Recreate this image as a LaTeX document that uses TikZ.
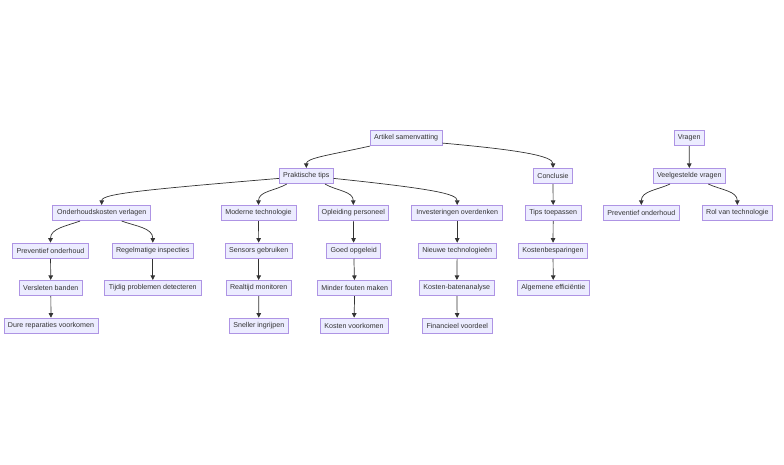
\documentclass[tikz,border=0pt]{standalone}
\usepackage{fontspec}
\setmainfont{Liberation Sans}
\usetikzlibrary{arrows.meta,calc}
\definecolor{boxfill}{HTML}{ECECFF}
\definecolor{boxline}{HTML}{9370DB}
\definecolor{txt}{HTML}{333333}
\begin{document}
\begin{tikzpicture}[x=1pt,y=1pt,
  box/.style={draw=boxline!75,fill=boxfill,line width=0.6pt,text=txt,minimum height=15.5pt,inner sep=1pt,font=\fontsize{7.1}{8.5}\selectfont},
  arr/.style={draw=txt,line width=0.7pt,-{Triangle[length=4.5pt,width=4.5pt]}}]
\useasboundingbox (0,0) rectangle (784,-464);
\fill[white] (0,0) rectangle (784,-464);
% row 0
\node[box,minimum width=71.7pt] (art) at (406.2,-138) {Artikel samenvatting};
\node[box,minimum width=30.3pt] (vragen) at (689.2,-138) {Vragen};
% row 1
\node[box,minimum width=54pt] (prak) at (306.3,-176) {Praktische tips};
\node[box,minimum width=38.6pt] (concl) at (553,-176) {Conclusie};
\node[box,minimum width=72.7pt] (veel) at (689.3,-176) {Veelgestelde vragen};
% row 2
\node[box,minimum width=98pt] (onder) at (101.7,-213) {Onderhoudskosten verlagen};
\node[box,minimum width=75pt] (mod) at (258.5,-213) {Moderne technologie};
\node[box,minimum width=70pt] (opl) at (353.3,-213) {Opleiding personeel};
\node[box,minimum width=91pt] (inv) at (457.2,-213) {Investeringen overdenken};
\node[box,minimum width=55.7pt] (tips) at (553.2,-213) {Tips toepassen};
\node[box,minimum width=76pt] (prevb) at (641.3,-213) {Preventief onderhoud};
\node[box,minimum width=70.7pt] (rol) at (737.3,-213) {Rol van technologie};
% row 3
\node[box,minimum width=76.4pt] (preva) at (50.5,-250.7) {Preventief onderhoud};
\node[box,minimum width=81pt] (regel) at (152.8,-250.7) {Regelmatige inspecties};
\node[box,minimum width=67.3pt] (sens) at (258.7,-250.7) {Sensors gebruiken};
\node[box,minimum width=54pt] (goed) at (353.7,-250.7) {Goed opgeleid};
\node[box,minimum width=77.7pt] (nieuw) at (457.2,-250.7) {Nieuwe technologieën};
\node[box,minimum width=69.4pt] (kostb) at (553,-250.7) {Kostenbesparingen};
% row 4
\node[box,minimum width=63.7pt] (vers) at (50.8,-288) {Versleten banden};
\node[box,minimum width=97pt] (tijdig) at (152.8,-288) {Tijdig problemen detecteren};
\node[box,minimum width=64.7pt] (real) at (258.7,-288) {Realtijd monitoren};
\node[box,minimum width=74pt] (minder) at (354.7,-288) {Minder fouten maken};
\node[box,minimum width=75pt] (kbaten) at (456.8,-288) {Kosten-batenanalyse};
\node[box,minimum width=72pt] (alg) at (553.3,-288) {Algemene efficiëntie};
% row 5
\node[box,minimum width=94pt] (dure) at (51,-325.7) {Dure reparaties voorkomen};
\node[box,minimum width=59pt] (snel) at (258.8,-325.7) {Sneller ingrijpen};
\node[box,minimum width=68pt] (kvoor) at (354,-325.7) {Kosten voorkomen};
\node[box,minimum width=70.7pt] (fin) at (457.3,-325.7) {Financieel voordeel};
% curved edges
\draw[arr] (art.south west) .. controls (330,-155) and ($(prak.north)+(0,10)$) .. (prak.north);
\draw[arr] (art.-8) .. controls (520,-150) and ($(concl.north)+(0,12)$) .. (concl.north);
\draw[arr] (prak.185) .. controls (140,-190) and ($(onder.north)+(0,11)$) .. (onder.north);
\draw[arr] (prak.-5) .. controls (435,-189) and ($(inv.north)+(0,11)$) .. (inv.north);
\draw[arr] ($(prak.south)+(-19.6,0)$) to[out=210,in=90] (mod.north);
\draw[arr] ($(prak.south)+(18.7,0)$) to[out=-30,in=90] (opl.north);
\draw[arr] ($(onder.south)+(-21.7,0)$) to[out=200,in=90] (preva.north);
\draw[arr] ($(onder.south)+(20,0)$) to[out=-20,in=90] (regel.north);
\draw[arr] ($(veel.south)+(-19.3,0)$) to[out=205,in=90] (prevb.north);
\draw[arr] ($(veel.south)+(19,0)$) to[out=-25,in=90] (rol.north);
% straight edges
\draw[arr] (vragen) -- (veel);
\draw[arr] (concl) -- (tips);
\draw[arr] (tips) -- (kostb);
\draw[arr] (kostb) -- (alg);
\draw[arr] (preva) -- (vers);
\draw[arr] (vers) -- (dure);
\draw[arr] (regel) -- (tijdig);
\draw[arr] (mod) -- (sens);
\draw[arr] (sens) -- (real);
\draw[arr] (real) -- (snel);
\draw[arr] (opl) -- (goed);
\draw[arr] (goed) -- (minder);
\draw[arr] (minder) -- (kvoor);
\draw[arr] (inv) -- (nieuw);
\draw[arr] (nieuw) -- (kbaten);
\draw[arr] (kbaten) -- (fin);
\end{tikzpicture}
\end{document}
